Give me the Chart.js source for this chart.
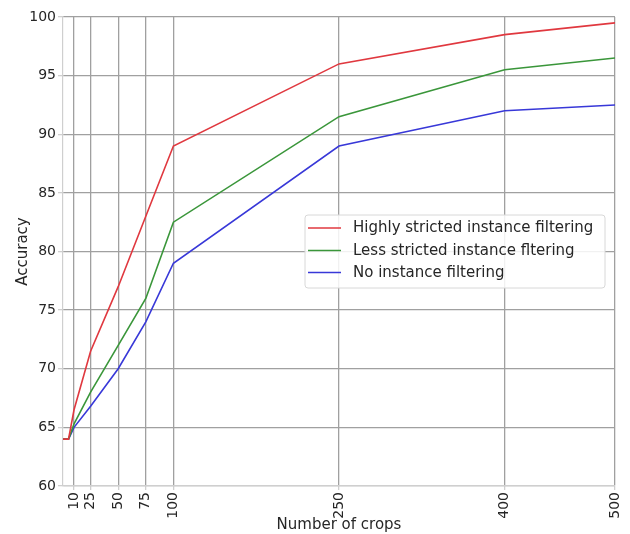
<!DOCTYPE html>
<html>
<head>
<meta charset="utf-8">
<script src="https://cdn.jsdelivr.net/npm/chart.js@4/dist/chart.umd.min.js"></script>
<style>
  html, body { margin: 0; padding: 0; background: #ffffff; }
  #wrap { width: 630px; height: 534px; }
</style>
</head>
<body>
<div id="wrap"><canvas id="c" width="630" height="534"></canvas></div>
<script>
// ---- data ----
const crops = [0, 5, 10, 25, 50, 75, 100, 250, 400, 500];
const highlyStricted = [64, 64, 66.5, 71.5, 77, 83, 89, 96, 98.5, 99.5];
const lessStricted   = [64, 64, 65.3, 68, 72, 76, 82.5, 91.5, 95.5, 96.5];
const noFiltering    = [64, 64, 65, 66.8, 70, 74, 79, 89, 92, 92.5];
const xTickValues = [10, 25, 50, 75, 100, 250, 400, 500];
const seriesNames = ['Highly stricted instance filtering', 'Less stricted instance fltering', 'No instance filtering'];
const seriesColors = ['#e0383f', '#3a963a', '#3838d8'];

const toPoints = arr => crops.map((x, i) => ({ x: x, y: arr[i] }));

Chart.defaults.font.family = "'DejaVu Sans', sans-serif";
Chart.defaults.color = '#262626';

const W = 630, H = 534;
const AREA = { left: 63, right: 615, top: 17, bottom: 486 };

const boxLegend = {
  id: 'boxLegend',
  afterDatasetsDraw(chart) {
    const ctx = chart.ctx;
    const x0 = 305, y0 = 215, x1 = 605, y1 = 288, r = 3;
    ctx.save();
    ctx.beginPath();
    ctx.moveTo(x0 + r, y0);
    ctx.lineTo(x1 - r, y0);
    ctx.arcTo(x1, y0, x1, y0 + r, r);
    ctx.lineTo(x1, y1 - r);
    ctx.arcTo(x1, y1, x1 - r, y1, r);
    ctx.lineTo(x0 + r, y1);
    ctx.arcTo(x0, y1, x0, y1 - r, r);
    ctx.lineTo(x0, y0 + r);
    ctx.arcTo(x0, y0, x0 + r, y0, r);
    ctx.closePath();
    ctx.fillStyle = 'rgba(255,255,255,0.85)';
    ctx.fill();
    ctx.strokeStyle = '#d8d8d8';
    ctx.lineWidth = 1;
    ctx.stroke();
    const rows = [228, 250.5, 272.5];
    chart.data.datasets.forEach((ds, i) => {
      const y = rows[i];
      ctx.beginPath();
      ctx.moveTo(308, y);
      ctx.lineTo(341, y);
      ctx.strokeStyle = ds.borderColor;
      ctx.lineWidth = 1.6;
      ctx.stroke();
      ctx.fillStyle = '#262626';
      ctx.font = "15px 'DejaVu Sans', sans-serif";
      ctx.textBaseline = 'middle';
      ctx.textAlign = 'left';
      ctx.fillText(ds.label, 353, y + 0.5);
    });
    ctx.restore();
  }
};

new Chart(document.getElementById('c'), {
  type: 'line',
  data: {
    datasets: [
      { label: seriesNames[0], data: toPoints(highlyStricted), borderColor: seriesColors[0] },
      { label: seriesNames[1], data: toPoints(lessStricted), borderColor: seriesColors[1] },
      { label: seriesNames[2], data: toPoints(noFiltering), borderColor: seriesColors[2] }
    ].map(d => Object.assign(d, { borderWidth: 1.6, pointRadius: 0, tension: 0, fill: false }))
  },
  options: {
    responsive: false,
    animation: false,
    devicePixelRatio: 1,
    layout: { padding: { left: 0, right: W - AREA.right, top: AREA.top, bottom: 0 } },
    plugins: { legend: { display: false }, tooltip: { enabled: false } },
    scales: {
      x: {
        type: 'linear',
        min: 0,
        max: 500,
        afterBuildTicks: scale => { scale.ticks = xTickValues.map(v => ({ value: v })); },
        afterFit: scale => { scale.height = H - AREA.bottom; scale.paddingRight = 0; scale.paddingLeft = 0; },
        ticks: {
          autoSkip: false,
          minRotation: 90,
          maxRotation: 90,
          font: { size: 14 },
          color: '#262626',
          padding: 2
        },
        grid: { color: '#a0a0a0', lineWidth: 1.3, tickColor: '#cfcfcf', tickLength: 4 },
        border: { color: '#cfcfcf', width: 1.2 },
        title: { display: true, text: 'Number of crops', font: { size: 15 }, color: '#262626', padding: { top: 0, bottom: 0 } }
      },
      y: {
        min: 60,
        max: 100,
        afterFit: scale => { scale.width = AREA.left; scale.paddingTop = 0; scale.paddingBottom = 0; },
        ticks: { stepSize: 5, font: { size: 14 }, color: '#262626', padding: 2 },
        grid: { color: '#a0a0a0', lineWidth: 1.3, tickColor: '#cfcfcf', tickLength: 5 },
        border: { color: '#cfcfcf', width: 1.2 },
        title: { display: true, text: 'Accuracy', font: { size: 15 }, color: '#262626', padding: { top: 14, bottom: 0 } }
      }
    }
  },
  plugins: [boxLegend]
});
</script>
</body>
</html>
